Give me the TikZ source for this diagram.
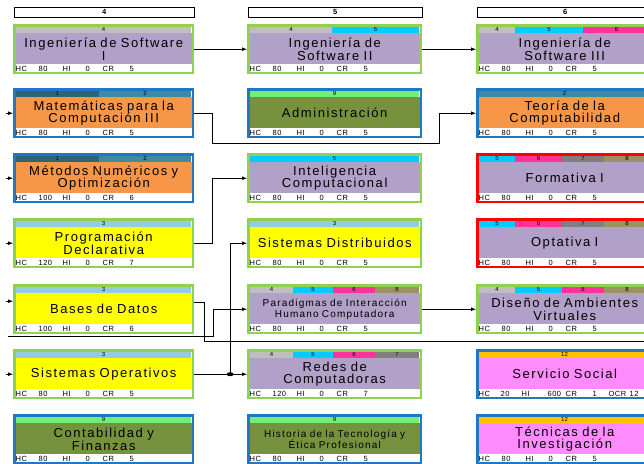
\documentclass[tikz,border=0pt]{standalone}
\usepackage{fontspec}
\setmainfont{Liberation Sans}
\newfontfamily\titulofont[LetterSpace=12,WordSpace=2]{Liberation Sans}
\newfontfamily\datosfont[LetterSpace=6]{Liberation Sans}
\usepackage{xcolor}
\usetikzlibrary{calc}
\usetikzlibrary{positioning}

\definecolor{verde}{HTML}{92D050}
\definecolor{azul}{HTML}{1F77C8}
\definecolor{rojo}{HTML}{FF0000}
\definecolor{lila}{HTML}{B1A0C7}
\definecolor{naranja}{HTML}{F79646}
\definecolor{amarillo}{HTML}{FFFF00}
\definecolor{olivo}{HTML}{76923C}
\definecolor{rosa}{HTML}{FF8CFF}
\definecolor{sem1}{HTML}{2B6676}
\definecolor{sem2}{HTML}{3A8C9E}
\definecolor{sem3}{HTML}{93CDDD}
\definecolor{sem4}{HTML}{BFBFBF}
\definecolor{sem5}{HTML}{00CCFF}
\definecolor{sem6}{HTML}{FF3399}
\definecolor{sem7}{HTML}{7F7F7F}
\definecolor{sem8}{HTML}{9C9160}
\definecolor{sem9}{HTML}{70F070}
\definecolor{sem12}{HTML}{FFC000}

\tikzset{
	caja/.style={rectangle,draw=none,inner xsep=0pt,inner ysep=2pt,minimum height=50pt,align=center,font=\titulofont\fontsize{13}{12.5}\selectfont},
	cabecera/.style={rectangle,draw=black,line width=1.3pt,fill=white,minimum height=10pt,inner sep=0pt,anchor=north west,font=\bfseries\fontsize{7.5}{8}\selectfont},
	semnum/.style={inner sep=0pt,font=\fontsize{6}{6}\selectfont},
	horas/.style={inner sep=0pt,anchor=west,font=\datosfont\fontsize{7.5}{8}\selectfont},
	flecha/.style={-latex,line width=0.7pt,black},
}

% #1 nombre, #2 x, #3 y, #4 ancho, #5 borde, #6 relleno, #7 barras, #8 titulo, #9 horas
\newcommand{\materia}[9]{%
	\fill[white] (#2,#3) rectangle ++(#4,50);
	\fill[#6] (#2,#3+9) rectangle ++(#4,31);
	\foreach \xa/\xb/\col/\num in {#7}{
		\fill[\col] (#2+\xa,#3+2) rectangle (#2+\xb,#3+9);
		\node[semnum] at ({#2+(\xa+\xb)/2},#3+5.5) {\num};
	}
	\draw[#5,line width=2.5pt] (#2+1.25,#3+1.25) rectangle (#2+#4-1.25,#3+48.75);
	\node[caja,text width=#4pt,anchor=north west] (#1) at (#2,#3) {#8};
	\node[horas] at (#2+2.5,#3+44.5) {#9};
}
\newcommand{\horas}[3]{\makebox[23pt][l]{HC}\makebox[24pt][l]{#1}\makebox[23pt][l]{HI}\makebox[17pt][l]{#2}\makebox[27pt][l]{CR}#3}

\begin{document}
\begin{tikzpicture}[x=1pt,y=-1pt]
	\clip (0,0) rectangle (644,463);

	% semestres
	\node[cabecera,minimum width=180pt] (s4) at (13.5,6.5) {4};
	\node[cabecera,minimum width=174pt] (s5) at (247.5,6.5) {5};
	\node[cabecera,minimum width=176pt] (s6) at (476.5,6.5) {6};

	% cuarto semestre
	\materia{isw1}{13}{24}{181}{verde}{lila}{3/178/sem4/4}{Ingeniería de Software\\I}{\horas{80}{0}{5}}
	\materia{mcomp}{13}{88}{181}{azul}{naranja}{3/86/sem1/1,86/178/sem2/2}{Matemáticas para la\\Computación III}{\horas{80}{0}{5}}
	\materia{metnum}{13}{153}{181}{azul}{naranja}{3/86/sem1/1,86/178/sem2/2}{Métodos Numéricos y\\Optimización}{\horas{100}{0}{6}}
	\materia{progdec}{13}{218}{181}{verde}{amarillo}{3/178/sem3/3}{Programación\\Declarativa}{\horas{120}{0}{7}}
	\materia{basedat}{13}{284}{181}{verde}{amarillo}{3/178/sem3/3}{Bases de Datos}{\horas{100}{0}{6}}
	\materia{sisop}{13}{349}{181}{verde}{amarillo}{3/178/sem3/3}{Sistemas Operativos}{\horas{80}{0}{5}}
	\materia{contab}{13}{414}{181}{azul}{olivo}{3/178/sem9/9}{Contabilidad y\\Finanzas}{\horas{80}{0}{5}}

	% quinto semestre
	\materia{isw2}{247}{24}{175}{verde}{lila}{3/85/sem4/4,85/172/sem5/5}{Ingeniería de\\Software II}{\horas{80}{0}{5}}
	\materia{admin}{247}{88}{175}{azul}{olivo}{3/172/sem9/9}{Administración}{\horas{80}{0}{5}}
	\materia{intcomp}{247}{153}{175}{verde}{lila}{3/172/sem5/5}{Inteligencia\\Computacional}{\horas{80}{0}{5}}
	\materia{sisdist}{247}{218}{175}{verde}{amarillo}{3/172/sem3/3}{Sistemas Distribuidos}{\horas{80}{0}{5}}
	\begin{scope}[caja/.append style={font=\titulofont\fontsize{10}{11}\selectfont}]
	\materia{parad}{247}{284}{175}{verde}{lila}{3/46/sem4/4,46/86/sem5/5,86/128/sem6/6,128/172/sem8/8}{Paradigmas de Interacción\\Humano Computadora}{\horas{80}{0}{5}}
	\end{scope}
	\materia{redes}{247}{349}{175}{verde}{lila}{3/46/sem4/4,46/86/sem5/5,86/128/sem6/6,128/172/sem7/7}{Redes de\\Computadoras}{\horas{120}{0}{7}}
	\begin{scope}[caja/.append style={font=\titulofont\fontsize{10}{11}\selectfont}]
	\materia{hist}{247}{414}{175}{azul}{olivo}{3/172/sem9/9}{Historia de la Tecnología y\\Ética Profesional}{\horas{80}{0}{5}}
	\end{scope}

	% sexto semestre
	\materia{isw3}{476}{24}{177}{verde}{lila}{3/39/sem4/4,39/107/sem5/5,107/174/sem6/6}{Ingeniería de\\Software III}{\horas{80}{0}{5}}
	\materia{teocomp}{476}{88}{177}{azul}{naranja}{3/174/sem2/2}{Teoría de la\\Computabilidad}{\horas{80}{0}{5}}
	\materia{format}{476}{153}{177}{rojo}{lila}{3/39/sem5/5,39/86/sem6/6,86/128/sem7/7,128/174/sem8/8}{Formativa I}{\horas{80}{0}{5}}
	\materia{optat}{476}{218}{177}{rojo}{lila}{3/39/sem5/5,39/86/sem6/6,86/128/sem7/7,128/174/sem8/8}{Optativa I}{\horas{80}{0}{5}}
	\materia{disamb}{476}{284}{177}{verde}{lila}{3/39/sem4/4,39/86/sem5/5,86/128/sem6/6,128/174/sem8/8}{Diseño de Ambientes\\Virtuales}{\horas{80}{0}{5}}
	\materia{servsoc}{476}{349}{177}{azul}{rosa}{3/174/sem12/12}{Servicio Social}{\makebox[22pt][l]{HC}\makebox[21pt][l]{20}\makebox[26pt][l]{HI}\makebox[18pt][l]{600}\makebox[27pt][l]{CR}\makebox[16pt][l]{1}\makebox[21pt][l]{OCR}12}
	\materia{tecinv}{476}{414}{177}{azul}{rosa}{3/174/sem12/12}{Técnicas de la\\Investigación}{\horas{80}{0}{5}}

	% seriaciones
	\coordinate[left=7pt of mcomp.west] (mcomp-in);
	\coordinate[left=7pt of metnum.west] (metnum-in);
	\coordinate[left=7pt of progdec.west] (progdec-in);
	\coordinate (basedat-w) at ([yshift=8pt]basedat.west);
	\coordinate[left=7pt of basedat-w] (basedat-in);
	\coordinate[left=7pt of sisop.west] (sisop-in);
	\draw[flecha] (mcomp-in) -- (mcomp.west);
	\draw[flecha] (metnum-in) -- (metnum.west);
	\draw[flecha] (progdec-in) -- (progdec.west);
	\draw[flecha] (basedat-in) -- (basedat-w);
	\draw[flecha] (sisop-in) -- (sisop.west);

	\draw[flecha] (isw1.east) -- (isw2.west);
	\draw[flecha] (isw2.east) -- (isw3.west);
	\draw[flecha] (mcomp.east) -- ++(18,0) -- ++(0,30) -| ([xshift=-37pt]teocomp.west) -- (teocomp.west);
	\draw[flecha] (progdec.east) -- ++(18,0) |- (intcomp.west);
	\coordinate (union) at ($(sisop.east)!0.68!(redes.west)$);
	\draw[flecha] (sisop.east) -- (redes.west);
	\draw[flecha] (union) |- (sisdist.west);
	\fill[black] (union) ellipse (3.5pt and 2pt);
	\coordinate (entrada) at (8,336);
	\draw[flecha] (entrada) -- ([xshift=-34pt]entrada -| parad.west) |- (parad.west);
	\coordinate (salida) at (660,341);
	\draw[line width=0.7pt] ([yshift=7pt]basedat.east) -- ++(10,0) |- (salida);
	\draw[flecha] (parad.east) -- (disamb.west);
\end{tikzpicture}
\end{document}
